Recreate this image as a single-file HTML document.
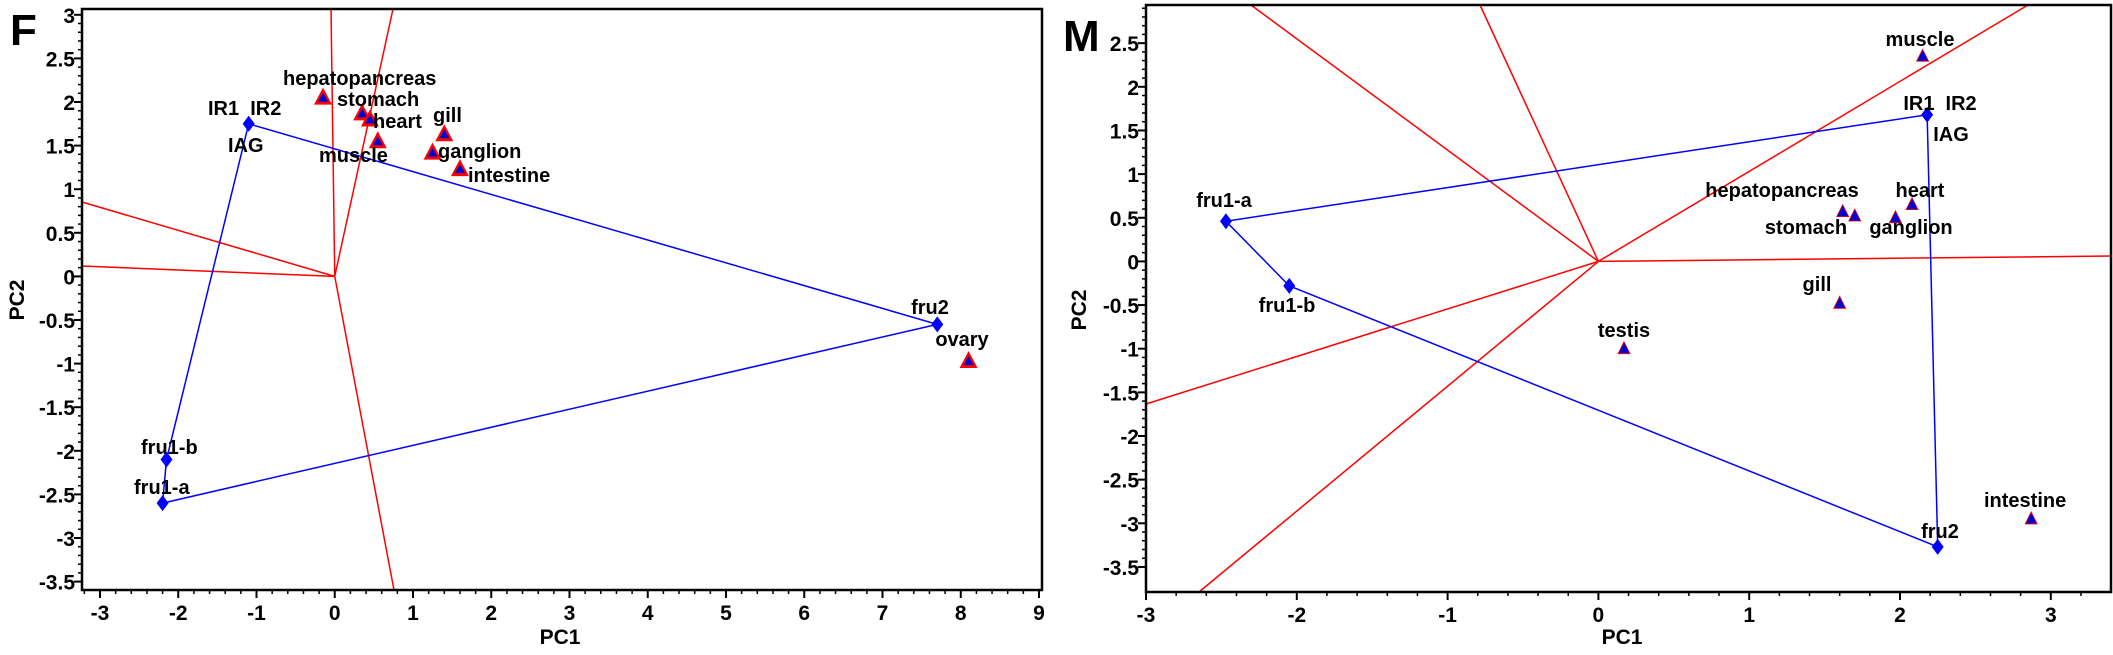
<!DOCTYPE html>
<html><head><meta charset="utf-8"><style>
html,body{margin:0;padding:0;background:#fff;}
svg{display:block;font-family:"Liberation Sans",Arial,sans-serif;font-weight:bold;}
</style></head><body>
<svg id="s" width="2113" height="655" viewBox="0 0 2113 655" xmlns="http://www.w3.org/2000/svg"></svg>
<script>
const s=document.getElementById('s');let h='';
function L(x1,y1,x2,y2,c,w){h+=`<line x1="${x1}" y1="${y1}" x2="${x2}" y2="${y2}" stroke="${c}" stroke-width="${w||1.5}"/>`;}
function T(x,y,t,sz,anc,extra){h+=`<text x="${x}" y="${y}" font-size="${sz}" text-anchor="${anc||'start'}" ${extra||''}>${t}</text>`;}
function dia(x,y){h+=`<polygon points="${x},${y-8} ${x+6},${y} ${x},${y+8} ${x-6},${y}" fill="#0000ff"/>`;}
function tri(x,y,big){if(big){h+=`<polygon points="${x},${y-10} ${x+9},${y+7} ${x-9},${y+7}" fill="#ff0000"/><polygon points="${x},${y-5} ${x+5},${y+4} ${x-5},${y+4}" fill="#0000cc"/>`;}else{h+=`<polygon points="${x},${y-7} ${x+6},${y+5} ${x-6},${y+5}" fill="#0000cc" stroke="#ff0000" stroke-width="0.8"/>`;}}
function panel(P){
 const X=v=>P.x0+(v-P.xmin)*P.xs, Y=v=>P.y0-(v-P.yref)*P.ys;
 // red lines
 const ox=X(0),oy=Y(0);
 P.red.forEach(e=>L(ox,oy,e[0],e[1],'#ff0000',1.5));
 // blue polygon
 const pts=P.poly.map(p=>`${X(p[0])},${Y(p[1])}`).join(' ');
 h+=`<polyline points="${pts}" fill="none" stroke="#0000ff" stroke-width="1.5"/>`;
 P.dia.forEach(p=>dia(X(p[0]),Y(p[1])));
 P.tri.forEach(p=>tri(X(p[0]),Y(p[1]),P.big));
 // frame
 h+=`<rect x="${P.L}" y="${P.T}" width="${P.R-P.L}" height="${P.B-P.T}" fill="none" stroke="#000" stroke-width="2.5"/>`;
 // x ticks
 for(let v=P.xmin;v<=P.xmax+1e-6;v+=1){const x=X(v);L(x,P.B,x,P.B+8,'#000',2);T(x,P.B+30,v,21,'middle');
  for(let k=1;k<5;k++){const xm=X(v+k*0.2);if(xm<P.R)L(xm,P.B,xm,P.B+4,'#000',1.5);}}
 for(let k=1;k<5;k++){const xm=X(P.xmin-k*0.2);if(xm>P.L)L(xm,P.B,xm,P.B+4,'#000',1.5);}
 for(let v=P.ymin;v<=P.ymax+1e-6;v+=0.5){const y=Y(v);L(P.L,y,P.L-8,y,'#000',2);T(P.L-7,y+8,(Math.round(v*10)/10),21,'end');
  for(let k=1;k<5;k++){const ym=Y(v+k*0.1);if(ym>P.T)L(P.L,ym,P.L-4,ym,'#000',1.5);}}
 P.labels.forEach(l=>T(l[0],l[1],l[2],20,l[3]||'start'));
}
panel({x0:100,xmin:-3,xmax:9,xs:78.25,y0:102,yref:2,ys:87.2,ymin:-3.5,ymax:3,L:82,T:9,R:1042,B:590,big:true,
 red:[[331,9],[393,9],[82,202],[82,266],[394,590]],
 poly:[[-1.1,1.75],[7.7,-0.55],[-2.2,-2.6],[-2.15,-2.1],[-1.1,1.75]],
 dia:[[-1.1,1.75],[7.7,-0.55],[-2.2,-2.6],[-2.15,-2.1]],
 tri:[[-0.15,2.05],[0.35,1.87],[0.45,1.8],[0.55,1.55],[1.4,1.63],[1.25,1.42],[1.6,1.23],[8.1,-0.97]],
 labels:[[208,115,'IR1&#160;&#160;IR2'],[228,152,'IAG'],[283,85,'hepatopancreas'],[337,106,'stomach'],[373,128,'heart'],[433,122,'gill'],[319,162,'muscle'],[438,158,'ganglion'],[468,182,'intestine'],[141,454,'fru1-b'],[134,494,'fru1-a'],[930,314,'fru2','middle'],[962,346,'ovary','middle']]});
panel({x0:1146,xmin:-3,xmax:3,xs:150.8,y0:436,yref:-2,ys:87.3,ymin:-3.5,ymax:2.5,L:1146,T:5,R:2111,B:592,big:false,
 red:[[1251,5],[1480,5],[2028,5],[2111,256],[1146,404],[1199,592]],
 poly:[[2.18,1.68],[-2.47,0.46],[-2.05,-0.28],[2.25,-3.27],[2.18,1.68]],
 dia:[[2.18,1.68],[-2.47,0.46],[-2.05,-0.28],[2.25,-3.27]],
 tri:[[2.15,2.35],[2.08,0.65],[1.62,0.57],[1.7,0.52],[1.97,0.5],[1.6,-0.48],[0.17,-1.0],[2.87,-2.95]],
 labels:[[1920,46,'muscle','middle'],[1940,110,'IR1&#160;&#160;IR2','middle'],[1951,141,'IAG','middle'],[1782,197,'hepatopancreas','middle'],[1920,197,'heart','middle'],[1806,234,'stomach','middle'],[1911,234,'ganglion','middle'],[1224,207,'fru1-a','middle'],[1287,312,'fru1-b','middle'],[1817,291,'gill','middle'],[1624,337,'testis','middle'],[1984,507,'intestine'],[1940,538,'fru2','middle']]});
T(10,45,'F',44);T(1063,51,'M',44);
T(560,644,'PC1',21,'middle');T(1622,644,'PC1',21,'middle');
T(0,0,'PC2',21,'middle','transform="translate(24,300) rotate(-90)"');
T(0,0,'PC2',21,'middle','transform="translate(1086,310) rotate(-90)"');
s.innerHTML=h;
</script>
</body></html>
